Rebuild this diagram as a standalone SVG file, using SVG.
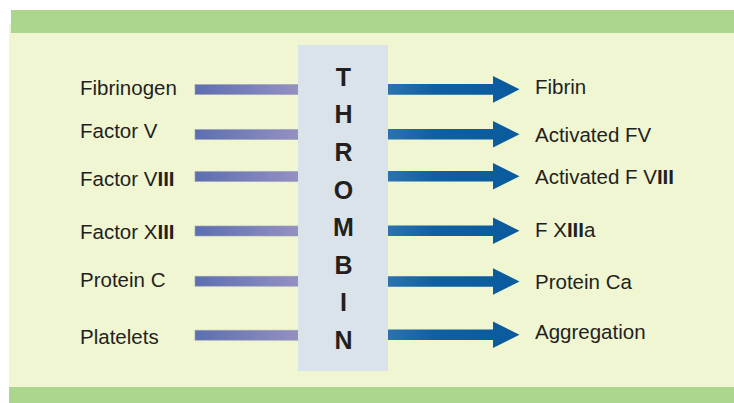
<svg xmlns="http://www.w3.org/2000/svg" width="734" height="403" viewBox="0 0 734 403">
  <style>
    .lbl { font-family: "Liberation Sans", Arial, sans-serif; font-size: 20.5px; fill: #231f20; }
    .ltr { font-family: "Liberation Sans", Arial, sans-serif; font-size: 25px; font-weight: bold; fill: #231f20; text-anchor: middle; }
    .b { font-weight: bold; }
    .in { fill: url(#inGrad); stroke: #9aa0b8; stroke-width: 0.6; }
    .out { fill: url(#outGrad); }
  </style>
  <defs>
    <linearGradient id="inGrad" x1="0" y1="0" x2="1" y2="0">
      <stop offset="0" stop-color="#5b6fb0"/>
      <stop offset="1" stop-color="#9590c2"/>
    </linearGradient>
    <linearGradient id="outGrad" gradientUnits="userSpaceOnUse" x1="388" y1="0" x2="520" y2="0">
      <stop offset="0" stop-color="#2d72b0"/>
      <stop offset="0.35" stop-color="#0f60a2"/>
      <stop offset="1" stop-color="#0a5b9e"/>
    </linearGradient>
  </defs>

  <!-- background panel and bands -->
  <rect x="9" y="24" width="725" height="363" fill="#f0f5d2"/>
  <rect x="11" y="10" width="723" height="23" fill="#acd58e"/>
  <rect x="9" y="387" width="725" height="16" fill="#acd58e"/>

  <!-- connectors -->
  <g id="connectors">
    <rect class="in" x="195" y="84.5" width="104" height="10"/>
    <rect class="in" x="195" y="129.5" width="104" height="10"/>
    <rect class="in" x="195" y="171.5" width="104" height="10"/>
    <rect class="in" x="195" y="226" width="104" height="10"/>
    <rect class="in" x="195" y="276.2" width="104" height="10"/>
    <rect class="in" x="195" y="330.2" width="104" height="10"/>

    <path class="out" d="M388,84 H493 V76 L519.5,89.35 L493,102.7 V94.7 H388 Z"/>
    <path class="out" d="M388,129 H493 V121 L519.5,134.3 L493,147.6 V139.6 H388 Z"/>
    <path class="out" d="M388,171 H493 V163 L519.5,176.3 L493,189.6 V181.6 H388 Z"/>
    <path class="out" d="M388,225.4 H493 V217.4 L519.5,230.7 L493,244 V236 H388 Z"/>
    <path class="out" d="M388,276.2 H493 V268.2 L519.5,281.5 L493,294.8 V286.8 H388 Z"/>
    <path class="out" d="M388,329.5 H493 V321.5 L519.5,334.8 L493,348.1 V340.1 H388 Z"/>
  </g>

  <!-- central enzyme column -->
  <g id="thrombin">
    <rect x="298" y="45" width="90" height="326" fill="#dbe3ea"/>
    <text class="ltr" x="343.5" y="85.7">T</text>
    <text class="ltr" x="343.5" y="123.3">H</text>
    <text class="ltr" x="343.5" y="161">R</text>
    <text class="ltr" x="343.5" y="199">O</text>
    <text class="ltr" x="343.5" y="236">M</text>
    <text class="ltr" x="343.5" y="274">B</text>
    <text class="ltr" x="343.5" y="311">I</text>
    <text class="ltr" x="343.5" y="349">N</text>
  </g>

  <!-- substrates -->
  <g id="substrates">
    <text id="fibrinogen" class="lbl" x="80" y="95">Fibrinogen</text>
    <text id="factor-v" class="lbl" x="80" y="138">Factor V</text>
    <text id="factor-viii" class="lbl" x="80" y="186">Factor V<tspan class="b">III</tspan></text>
    <text id="factor-xiii" class="lbl" x="80" y="239.3">Factor X<tspan class="b">III</tspan></text>
    <text id="protein-c" class="lbl" x="80" y="287.3">Protein C</text>
    <text id="platelets" class="lbl" x="80" y="344.3">Platelets</text>
  </g>

  <!-- products -->
  <g id="products">
    <text id="fibrin" class="lbl" x="535" y="94.3">Fibrin</text>
    <text id="activated-fv" class="lbl" x="535" y="141.7">Activated FV</text>
    <text id="activated-fviii" class="lbl" x="535" y="184">Activated F V<tspan class="b">III</tspan></text>
    <text id="fxiiia" class="lbl" x="535" y="237.3">F X<tspan class="b">III</tspan>a</text>
    <text id="protein-ca" class="lbl" x="535" y="289">Protein Ca</text>
    <text id="aggregation" class="lbl" x="535" y="339">Aggregation</text>
  </g>
</svg>
